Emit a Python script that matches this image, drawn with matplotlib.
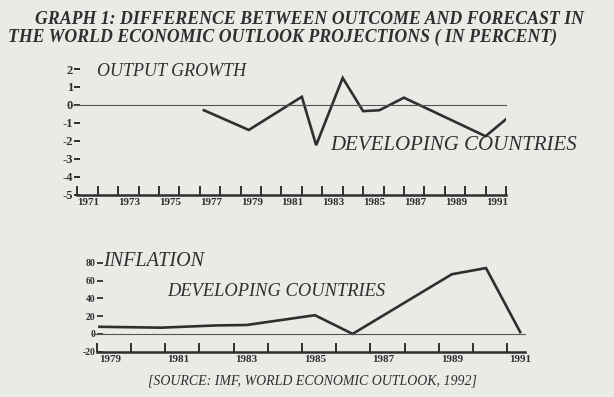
import matplotlib.pyplot as plt

# scanned page, pixel layout 614x397
W, H = 614, 397
paper = '#eaeae7'
ink = '#2f2f2f'

plt.rcParams['font.family'] = ['Liberation Serif', 'DejaVu Serif']

# output growth: outcome minus forecast (percent points)
growth_years = [1976.2, 1978.4, 1981.0, 1981.7, 1983.0, 1984.0, 1984.8, 1986.0, 1990.0, 1991.0]
growth_values = [-0.3, -1.4, 0.45, -2.25, 1.5, -0.35, -0.3, 0.4, -1.75, -0.8]
growth_yticks = [-5, -4, -3, -2, -1, 0, 1, 2]
growth_xlabels = [1971, 1973, 1975, 1977, 1979, 1981, 1983, 1985, 1987, 1989, 1991]

# inflation: outcome minus forecast (percent points)
inflation_years = [1978.7, 1980.5, 1982.1, 1983.0, 1985.0, 1986.1, 1989.0, 1990.0, 1991.0]
inflation_values = [8, 7, 9.5, 10, 21, 0, 67, 74, 2]
inflation_yticks = [-20, 0, 20, 40, 60, 80]
inflation_xlabels = [1979, 1981, 1983, 1985, 1987, 1989, 1991]


def px_axes(fig, x0, x1, y_top, y_bot):
    return fig.add_axes([x0 / W, 1 - y_bot / H, (x1 - x0) / W, (y_bot - y_top) / H])


def px_text(fig, x, y, s, **kw):
    fig.text(x / W, 1 - y / H, s, color=ink, va='center', **kw)


def style_axis(ax):
    ax.set_facecolor('none')
    for side in ['top', 'right', 'left']:
        ax.spines[side].set_visible(False)
    ax.spines['bottom'].set_linewidth(1.8)
    ax.spines['bottom'].set_color(ink)
    ax.tick_params(axis='x', which='major', direction='in', length=6.5, width=1.4,
                   color=ink, labelbottom=False)
    ax.tick_params(axis='x', which='minor', length=0, pad=2.5, labelsize=8,
                   labelcolor=ink)
    for lab in ax.get_xticklabels(minor=True):
        lab.set_fontweight('bold')


fig = plt.figure(figsize=(W / 100, H / 100), dpi=100, facecolor=paper)

# ---- top panel: output growth
ax1 = px_axes(fig, 77.3, 506, 69, 194.5)
ax1.plot(growth_years, growth_values, color=ink, lw=1.9, solid_joinstyle='miter')
ax1.axhline(0, xmin=-0.01, xmax=1.0, color='#555555', lw=0.8, clip_on=False)
ax1.set_xlim(1970, 1991)
ax1.set_ylim(-5, 2)
ax1.set_xticks(range(1970, 1992))
ax1.set_xticks([y - 0.45 for y in growth_xlabels], minor=True)
ax1.set_xticklabels([str(y) for y in growth_xlabels], minor=True)
ax1.set_yticks(growth_yticks)
ax1.set_yticklabels([str(v) for v in growth_yticks], fontweight='bold')
ax1.tick_params(axis='y', direction='inout', length=5, width=1.4, pad=0.5,
                labelsize=9, color=ink, labelcolor=ink)
style_axis(ax1)

# ---- bottom panel: inflation
ax2 = px_axes(fig, 96.7, 525, 262.7, 351.7)
ax2.plot(inflation_years, inflation_values, color=ink, lw=1.9, solid_joinstyle='miter')
ax2.axhline(0, xmin=-0.01, xmax=1.0, color='#555555', lw=0.8, clip_on=False)
ax2.set_xlim(1978.62, 1991.14)
ax2.set_ylim(-20, 80)
ax2.set_xticks([1978.62 + k for k in range(13)])
ax2.set_xticks(inflation_xlabels, minor=True)
ax2.set_xticklabels([str(y) for y in inflation_xlabels], minor=True)
ax2.set_yticks(inflation_yticks)
ax2.set_yticklabels([str(v) for v in inflation_yticks], fontweight='bold')
ax2.tick_params(axis='y', direction='in', length=4.5, width=1.3, pad=1,
                labelsize=7, color=ink, labelcolor=ink)
style_axis(ax2)

# ---- texts
title_kw = dict(fontsize=12.8, fontstyle='italic', fontweight='bold')
px_text(fig, 35, 20, 'GRAPH 1: DIFFERENCE BETWEEN OUTCOME AND FORECAST IN', **title_kw)
px_text(fig, 8, 37, 'THE WORLD ECONOMIC OUTLOOK PROJECTIONS ( IN PERCENT)', **title_kw)

label_kw = dict(fontstyle='italic')
px_text(fig, 97, 71, 'OUTPUT GROWTH', fontsize=13, **label_kw)
px_text(fig, 330, 146, 'DEVELOPING COUNTRIES', fontsize=15, **label_kw)
px_text(fig, 103, 261, 'INFLATION', fontsize=14.5, **label_kw)
px_text(fig, 167, 291, 'DEVELOPING COUNTRIES', fontsize=13.3, **label_kw)
px_text(fig, 148, 381, '[SOURCE: IMF, WORLD ECONOMIC OUTLOOK, 1992]', fontsize=10, **label_kw)

fig.savefig('out.png', dpi=100, facecolor=paper)
